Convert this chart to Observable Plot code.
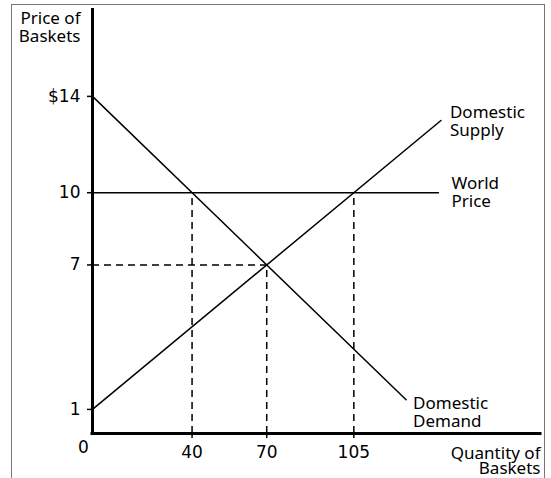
<!DOCTYPE html>
<html>
<head>
<meta charset="utf-8">
<script src="https://cdn.jsdelivr.net/npm/d3@7"></script>
<script src="https://cdn.jsdelivr.net/npm/@observablehq/plot@0.6"></script>
<style>
  html, body { margin: 0; padding: 0; background: white; overflow: hidden; }
  #wrap { position: relative; width: 551px; height: 478px; }
  #border { position: absolute; left: 11px; top: 4px; width: 534px; height: 520px;
            border: 1.5px solid #777; box-sizing: border-box; pointer-events: none; }
  #chart { position: absolute; left: 0; top: 0; }
  #chart svg text { font-size: 17px; font-variant: normal; }
  #chart svg g[aria-label$="tick label"] text, #chart svg g.num text { font-family: 'DejaVu Sans', sans-serif; }
</style>
</head>
<body>
<div id="wrap"><div id="chart"></div><div id="border"></div></div>
<script>
// Tick values and labels
const qTicks = [40, 70, 105];
const pTicks = [1, 7, 10, 14];
const pTickLabels = ["1", "7", "10", "$14"];

// Curves (quantity, price)
const demandQ = [0, 126];
const demandP = [14, 1.4];
const supplyQ = [0, 140];
const supplyP = [1, 13];
const worldQ = [0, 139];
const worldPrice = 10;

// Key points
const autarkyQ = 70, autarkyP = 7;
const worldDemandQ = 40, worldSupplyQ = 105;

// Labels
const curveNames = ["Domestic\nSupply", "World\nPrice", "Domestic\nDemand"];

const demand = demandQ.map((q, i) => ({q, p: demandP[i]}));
const supply = supplyQ.map((q, i) => ({q, p: supplyP[i]}));
const world = worldQ.map(q => ({q, p: worldPrice}));
const drops = [
  {q: worldDemandQ, p: worldPrice},
  {q: autarkyQ, p: autarkyP},
  {q: worldSupplyQ, p: worldPrice}
];
const labelSupply = [{q: supplyQ[1], p: supplyP[1], t: curveNames[0]}];
const labelWorld = [{q: worldQ[1], p: worldPrice, t: curveNames[1]}];
const labelDemand = [{q: demandQ[1], p: demandP[1], t: curveNames[2]}];

const chart = Plot.plot({
  width: 551,
  height: 478,
  marginLeft: 92,
  marginRight: 11,
  marginTop: 8,
  marginBottom: 45,
  style: {fontFamily: "'Noto Sans', sans-serif", fontSize: "17px", color: "black", background: "white", overflow: "visible"},
  x: {domain: [0, 180]},
  y: {domain: [0, 17.65]},
  marks: [
    // dashed guides
    Plot.ruleX(drops, {x: "q", y1: 0, y2: "p", stroke: "black", strokeWidth: 1.5, strokeDasharray: "7,5"}),
    Plot.ruleY([autarkyP], {x1: 0, x2: autarkyQ, stroke: "black", strokeWidth: 1.5, strokeDasharray: "7,5"}),
    // curves
    Plot.line(demand, {x: "q", y: "p", stroke: "black", strokeWidth: 1.5}),
    Plot.line(supply, {x: "q", y: "p", stroke: "black", strokeWidth: 1.5}),
    Plot.line(world, {x: "q", y: "p", stroke: "black", strokeWidth: 1.5}),
    // axes
    Plot.axisX(qTicks, {tickSize: 5, tickPadding: 7, label: null, strokeWidth: 1.5, fontSize: 17, fontFamily: "DejaVu Sans"}),
    Plot.axisY(pTicks, {tickSize: 5, tickPadding: 7, label: null, strokeWidth: 1.5, fontSize: 17, fontFamily: "DejaVu Sans",
      tickFormat: d => pTickLabels[pTicks.indexOf(d)]}),
    Plot.ruleX([0], {stroke: "black", strokeWidth: 3}),
    Plot.ruleY([0], {stroke: "black", strokeWidth: 3, strokeLinecap: "square"}),
    // origin label
    Plot.text([0], {x: 0, y: 0, text: d => String(d), dx: -9, dy: 14, fontFamily: "DejaVu Sans", className: "num"}),
    // curve labels
    Plot.text(labelSupply, {x: "q", y: "p", text: "t", textAnchor: "start", lineAnchor: "middle", dx: 9, dy: 1, lineHeight: 1.06}),
    Plot.text(labelWorld, {x: "q", y: "p", text: "t", textAnchor: "start", lineAnchor: "middle", dx: 13, dy: 0, lineHeight: 1.06}),
    Plot.text(labelDemand, {x: "q", y: "p", text: "t", textAnchor: "start", lineAnchor: "middle", dx: 7, dy: 12, lineHeight: 1.06}),
    // axis titles
    Plot.text(["Price of\nBaskets"], {frameAnchor: "top-left", text: d => d, textAnchor: "end", lineAnchor: "top", dx: -12, dy: 3, lineHeight: 1.06}),
    Plot.text(["Quantity of\nBaskets"], {frameAnchor: "bottom-right", text: d => d, textAnchor: "end", lineAnchor: "top", dx: 0, dy: 15, lineHeight: 0.88})
  ]
});
document.getElementById("chart").appendChild(chart);
</script>
</body>
</html>
